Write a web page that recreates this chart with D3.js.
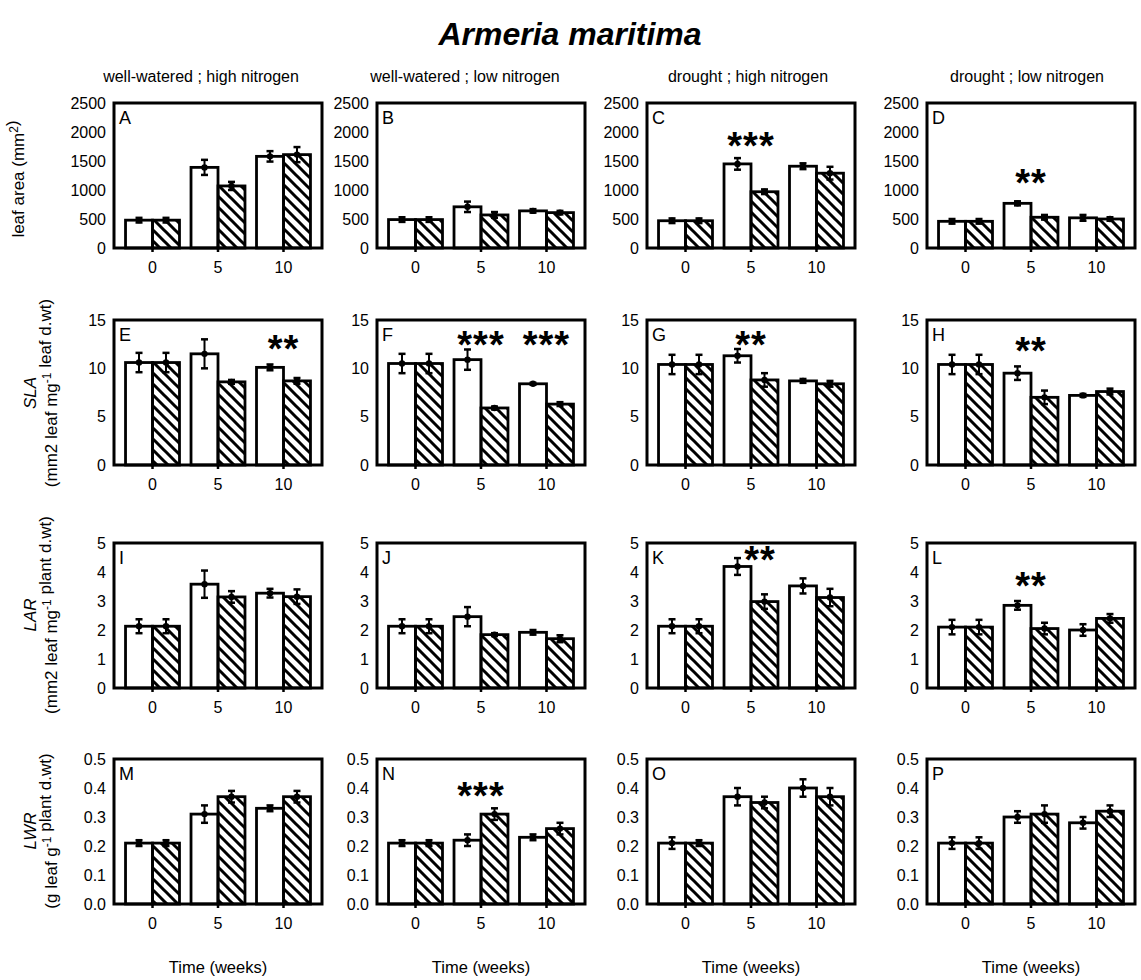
<!DOCTYPE html>
<html>
<head>
<meta charset="utf-8">
<script src="https://cdn.jsdelivr.net/npm/d3@7"></script>
<style>
  body { margin: 0; background: #fff; }
  svg { font-family: "Liberation Sans", Arial, sans-serif; }
</style>
</head>
<body>
<svg id="chart" width="1141" height="980"></svg>
<script>
// weeks on the x axis
var weeks = ["0", "5", "10"];
var treatments = ["well-watered ; high nitrogen", "well-watered ; low nitrogen", "drought ; high nitrogen", "drought ; low nitrogen"];
var panelLetters = [["A", "B", "C", "D"], ["E", "F", "G", "H"], ["I", "J", "K", "L"], ["M", "N", "O", "P"]];

// leaf area (mm2) - one inner array per treatment column
var leafAreaOpen = [[480, 1390, 1580], [490, 710, 640], [470, 1450, 1410], [460, 770, 520]];
var leafAreaOpenErr = [[40, 130, 90], [40, 90, 30], [40, 100, 50], [40, 35, 50]];
var leafAreaHatched = [[480, 1070, 1610], [490, 570, 610], [470, 970, 1290], [460, 530, 500]];
var leafAreaHatchedErr = [[40, 70, 130], [40, 50, 30], [40, 40, 110], [40, 40, 30]];

// SLA
var slaOpen = [[10.6, 11.5, 10.1], [10.5, 10.9, 8.4], [10.4, 11.3, 8.7], [10.4, 9.5, 7.2]];
var slaOpenErr = [[1.0, 1.5, 0.3], [1.0, 1.05, 0.1], [1.0, 0.7, 0.2], [1.0, 0.7, 0.15]];
var slaHatched = [[10.6, 8.6, 8.7], [10.5, 5.9, 6.3], [10.4, 8.8, 8.4], [10.4, 7.0, 7.6]];
var slaHatchedErr = [[1.0, 0.2, 0.3], [1.0, 0.15, 0.2], [1.0, 0.7, 0.3], [1.0, 0.7, 0.3]];

// LAR
var larOpen = [[2.13, 3.58, 3.27], [2.13, 2.46, 1.92], [2.13, 4.19, 3.52], [2.1, 2.85, 2.0]];
var larOpenErr = [[0.24, 0.47, 0.15], [0.24, 0.33, 0.08], [0.24, 0.29, 0.26], [0.25, 0.15, 0.2]];
var larHatched = [[2.13, 3.14, 3.15], [2.13, 1.84, 1.7], [2.13, 2.98, 3.12], [2.1, 2.05, 2.4]];
var larHatchedErr = [[0.24, 0.2, 0.25], [0.24, 0.05, 0.12], [0.24, 0.25, 0.3], [0.25, 0.2, 0.15]];

// LWR
var lwrOpen = [[0.21, 0.31, 0.33], [0.21, 0.22, 0.23], [0.21, 0.37, 0.40], [0.21, 0.30, 0.28]];
var lwrOpenErr = [[0.01, 0.03, 0.01], [0.01, 0.02, 0.01], [0.02, 0.03, 0.03], [0.02, 0.02, 0.02]];
var lwrHatched = [[0.21, 0.37, 0.37], [0.21, 0.31, 0.26], [0.21, 0.35, 0.37], [0.21, 0.31, 0.32]];
var lwrHatchedErr = [[0.01, 0.02, 0.02], [0.01, 0.02, 0.02], [0.01, 0.02, 0.03], [0.02, 0.03, 0.02]];

// y axis ticks per row
var leafAreaTicks = [0, 500, 1000, 1500, 2000, 2500];
var slaTicks = [0, 5, 10, 15];
var larTicks = [0, 1, 2, 3, 4, 5];
var lwrTicks = [0, 0.1, 0.2, 0.3, 0.4, 0.5];

// significance marks: panel, week, height in data units
var stars = [
    {panel: "C", week: "5", at: 1850, text: "***"},
    {panel: "D", week: "5", at: 1200, text: "**"},
    {panel: "E", week: "10", at: 12.5, text: "**"},
    {panel: "F", week: "5", at: 12.9, text: "***"},
    {panel: "F", week: "10", at: 12.9, text: "***"},
    {panel: "G", week: "5", at: 12.9, text: "**"},
    {panel: "H", week: "5", at: 12.3, text: "**"},
    {panel: "K", week: "5", at: 4.6, text: "**", shift: 9},
    {panel: "L", week: "5", at: 3.7, text: "**"},
    {panel: "N", week: "5", at: 0.39, text: "***"}
];

var rows = [
    {open: leafAreaOpen, openErr: leafAreaOpenErr, hatched: leafAreaHatched, hatchedErr: leafAreaHatchedErr, ticks: leafAreaTicks, fmt: d3.format("d")},
    {open: slaOpen, openErr: slaOpenErr, hatched: slaHatched, hatchedErr: slaHatchedErr, ticks: slaTicks, fmt: d3.format("d")},
    {open: larOpen, openErr: larOpenErr, hatched: larHatched, hatchedErr: larHatchedErr, ticks: larTicks, fmt: d3.format("d")},
    {open: lwrOpen, openErr: lwrOpenErr, hatched: lwrHatched, hatchedErr: lwrHatchedErr, ticks: lwrTicks, fmt: d3.format(".1f")}
];

var svg = d3.select("#chart");

// layout
var colLeft = [114, 377, 647, 927];
var headerShift = [-17, -16, -3, -4];
var rowTop = [103, 320, 543, 759];
var pw = 208, ph = 145;

// hatch pattern
svg.append("defs").append("pattern")
    .attr("id", "hatch")
    .attr("patternUnits", "userSpaceOnUse")
    .attr("width", 11).attr("height", 11)
    .append("path")
    .attr("d", "M-5.5,5.5 L5.5,16.5 M0,0 L11,11 M5.5,-5.5 L16.5,5.5")
    .attr("stroke", "#000")
    .attr("stroke-width", 3);

// title
svg.append("text")
    .attr("x", 570).attr("y", 45)
    .attr("text-anchor", "middle")
    .style("font-size", "32px").style("font-weight", "bold").style("font-style", "italic")
    .text("Armeria maritima");

// column headers
treatments.forEach(function (t, c) {
    svg.append("text")
        .attr("x", colLeft[c] + pw / 2 + headerShift[c]).attr("y", 82)
        .attr("text-anchor", "middle")
        .style("font-size", "16px")
        .text(t);
    svg.append("text")
        .attr("x", colLeft[c] + pw / 2).attr("y", 973)
        .attr("text-anchor", "middle")
        .style("font-size", "16.5px")
        .text("Time (weeks)");
});

rows.forEach(function (row, r) {
    var y = d3.scaleLinear()
        .domain([0, row.ticks[row.ticks.length - 1]])
        .range([rowTop[r] + ph, rowTop[r]]);

    for (var c = 0; c < 4; c++) {
        var x = d3.scaleBand().domain(weeks)
            .range([colLeft[c], colLeft[c] + pw])
            .paddingInner(0.176).paddingOuter(0.176);
        var xs = d3.scaleBand().domain(["open", "hatched"]).range([0, x.bandwidth()]);

        var g = svg.append("g");

        // y axis labels
        var yAxis = d3.axisLeft(y).tickValues(row.ticks).tickFormat(row.fmt).tickSize(0).tickPadding(8);
        var ya = g.append("g").attr("transform", "translate(" + colLeft[c] + ",0)").call(yAxis);
        ya.select(".domain").remove();
        ya.selectAll("text").style("font-size", "16px").attr("fill", "#000");

        // x axis labels + small ticks
        var xAxis = d3.axisBottom(x).tickSize(4).tickPadding(10);
        var xa = g.append("g").attr("transform", "translate(0," + (rowTop[r] + ph) + ")").call(xAxis);
        xa.select(".domain").remove();
        xa.selectAll("line").attr("stroke-width", 2.5);
        xa.selectAll("text").style("font-size", "16px").attr("fill", "#000");

        var bars = weeks.map(function (w, i) {
            return [
                {week: w, s: "open", v: row.open[c][i], e: row.openErr[c][i]},
                {week: w, s: "hatched", v: row.hatched[c][i], e: row.hatchedErr[c][i]}
            ];
        }).flat();

        g.selectAll(".bar").data(bars).enter().append("rect")
            .attr("class", "bar")
            .attr("x", function (d) { return x(d.week) + xs(d.s); })
            .attr("width", xs.bandwidth())
            .attr("y", function (d) { return y(d.v); })
            .attr("height", function (d) { return y(0) - y(d.v); })
            .attr("fill", function (d) { return d.s == "open" ? "#fff" : "url(#hatch)"; })
            .attr("stroke", "#000")
            .attr("stroke-width", 2.8);

        // error bars
        var eb = g.selectAll(".err").data(bars).enter().append("g").attr("class", "err");
        var cx = function (d) { return x(d.week) + xs(d.s) + xs.bandwidth() / 2; };
        eb.append("line")
            .attr("x1", cx).attr("x2", cx)
            .attr("y1", function (d) { return y(d.v + d.e); })
            .attr("y2", function (d) { return y(d.v - d.e); })
            .attr("stroke", "#000").attr("stroke-width", 2);
        [1, -1].forEach(function (sgn) {
            eb.append("line")
                .attr("x1", function (d) { return cx(d) - 3.5; })
                .attr("x2", function (d) { return cx(d) + 3.5; })
                .attr("y1", function (d) { return y(d.v + sgn * d.e); })
                .attr("y2", function (d) { return y(d.v + sgn * d.e); })
                .attr("stroke", "#000").attr("stroke-width", 2.5);
        });
        eb.append("circle")
            .attr("cx", cx)
            .attr("cy", function (d) { return y(d.v); })
            .attr("r", 3.2).attr("fill", "#000");

        // frame
        g.append("rect")
            .attr("x", colLeft[c]).attr("y", rowTop[r])
            .attr("width", pw).attr("height", ph)
            .attr("fill", "none").attr("stroke", "#000").attr("stroke-width", 3);

        var letter = panelLetters[r][c];
        g.append("text")
            .attr("x", colLeft[c] + 5).attr("y", rowTop[r] + 21)
            .style("font-size", "18px")
            .text(letter);

        stars.filter(function (s) { return s.panel == letter; }).forEach(function (s) {
            g.append("text")
                .attr("x", x(s.week) + x.bandwidth() / 2 + (s.shift || 0))
                .attr("y", y(s.at) + 18)
                .attr("text-anchor", "middle")
                .style("font-size", "38px").style("font-weight", "bold")
                .style("letter-spacing", "1px")
                .text(s.text);
        });
    }
});

// y axis titles
function yTitle(cx, cy, parts, italic) {
    var t = svg.append("text")
        .attr("transform", "translate(" + cx + "," + cy + ") rotate(-90)")
        .attr("text-anchor", "middle")
        .style("font-size", "17px")
        .style("font-style", italic ? "italic" : "normal");
    parts.forEach(function (p) {
        if (typeof p === "object") {
            t.append("tspan").attr("dy", -6).style("font-size", "12px").text(p.sup);
            t.append("tspan").attr("dy", 6).text("");
        } else {
            t.append("tspan").text(p);
        }
    });
}

yTitle(24, 179, ["leaf area (mm", {sup: "2"}, ")"]);
yTitle(36, 393, ["SLA"], true);
yTitle(57, 393, ["(mm2 leaf mg", {sup: "-1"}, " leaf d.wt)"]);
yTitle(36, 615, ["LAR"], true);
yTitle(57, 615, ["(mm2 leaf mg", {sup: "-1"}, " plant d.wt)"]);
yTitle(36, 831, ["LWR"], true);
yTitle(57, 831, ["(g leaf g", {sup: "-1"}, " plant d.wt)"]);
</script>
</body>
</html>
